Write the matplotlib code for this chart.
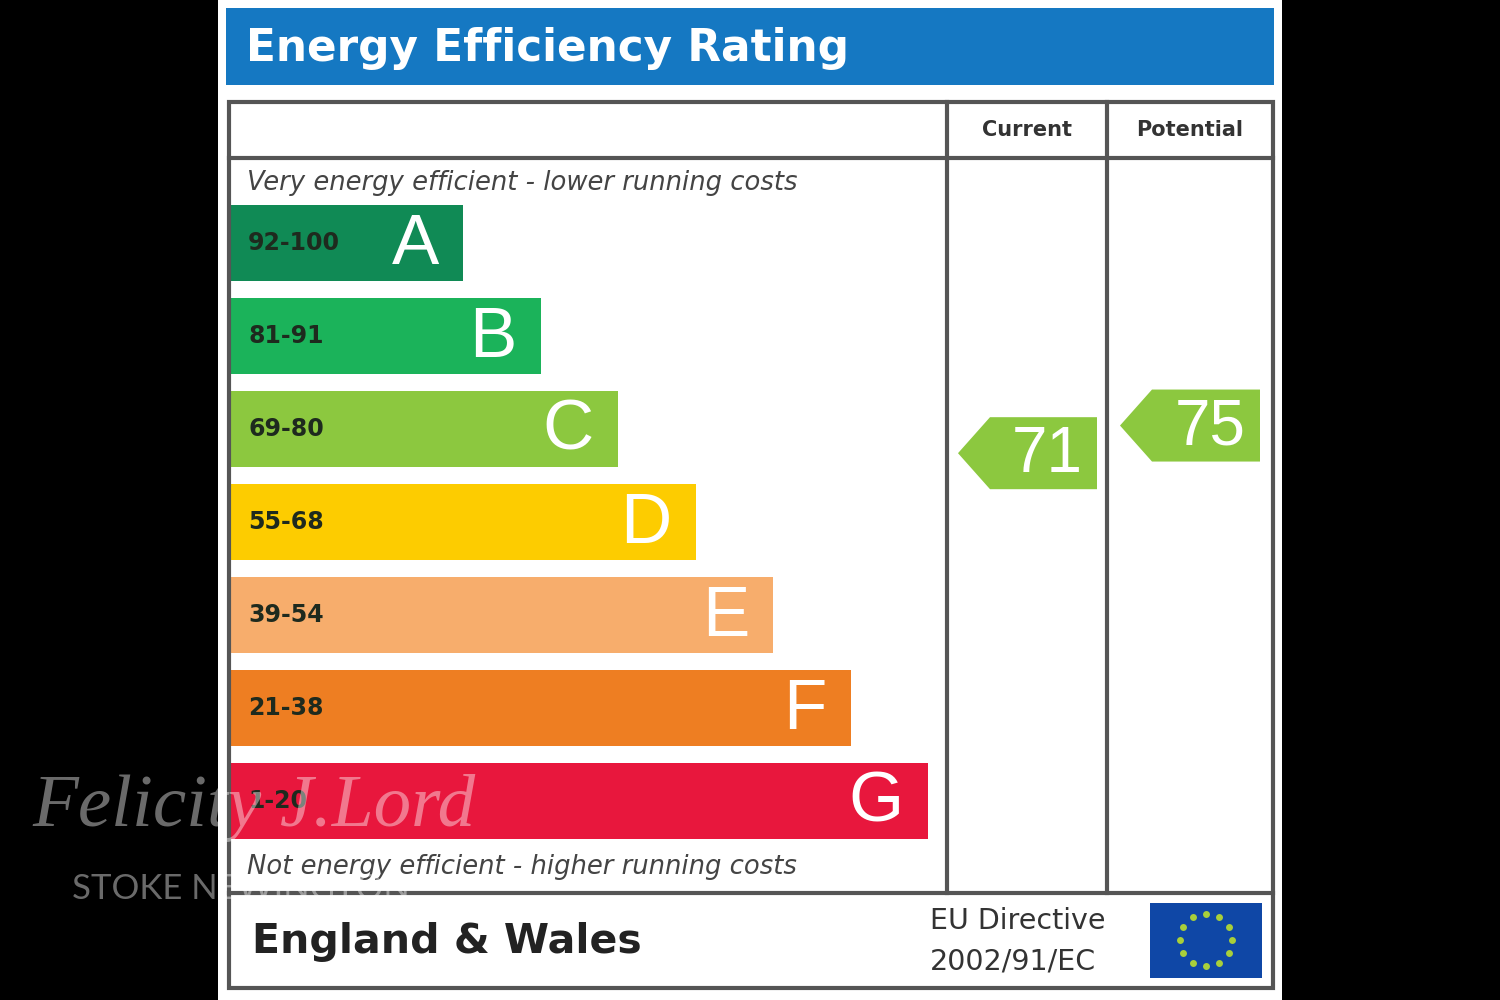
import matplotlib
matplotlib.use("Agg")
import matplotlib.pyplot as plt
from matplotlib.patches import Rectangle, Polygon
import numpy as np

# ---- data ----
bands = ["A", "B", "C", "D", "E", "F", "G"]
ranges = ["92-100", "81-91", "69-80", "55-68", "39-54", "21-38", "1-20"]
lows = [92, 81, 69, 55, 39, 21, 1]
highs = [100, 91, 80, 68, 54, 38, 20]
band_colors = ["#108a55", "#1bb35a", "#8cc83f", "#fdcc00", "#f7ad6c", "#ee7e22", "#e8173d"]
current = 71
potential = 75
columns = ["Current", "Potential"]

SANS = "DejaVu Sans"

fig = plt.figure(figsize=(15, 10), dpi=100, facecolor="black")
ax = fig.add_axes([0, 0, 1, 1])
ax.set_xlim(0, 1500)
ax.set_ylim(1000, 0)
ax.axis("off")
ax.set_facecolor("black")

# white panel
ax.add_patch(Rectangle((218, 0), 1064, 1000, facecolor="white", edgecolor="none", zorder=0))
# title bar
ax.add_patch(Rectangle((226, 8), 1048, 77, facecolor="#1578c2", edgecolor="none", zorder=1))
ax.text(246, 48, "Energy Efficiency Rating", color="white", fontsize=31.5, fontweight="bold",
        family=SANS, va="center", ha="left", zorder=2)

# frame
lc = "#555555"
ax.add_patch(Rectangle((229, 102), 1044, 886, facecolor="none", edgecolor=lc, lw=3, zorder=3))
ax.plot([229, 1273], [158, 158], color=lc, lw=3, zorder=3)
ax.plot([229, 1273], [893, 893], color=lc, lw=3, zorder=3)
ax.plot([947, 947], [102, 893], color=lc, lw=3, zorder=3)
ax.plot([1107, 1107], [102, 893], color=lc, lw=3, zorder=3)
ax.text(1027, 130, columns[0], fontsize=15, fontweight="bold", color="#333333",
        family=SANS, ha="center", va="center")
ax.text(1190, 130, columns[1], fontsize=15, fontweight="bold", color="#333333",
        family=SANS, ha="center", va="center")

ax.text(247, 183, "Very energy efficient - lower running costs", fontsize=18.6, style="italic",
        color="#444444", family=SANS, ha="left", va="center")
ax.text(247, 867, "Not energy efficient - higher running costs", fontsize=18.6, style="italic",
        color="#444444", family=SANS, ha="left", va="center")

# bars
bar_h = 76
step = 93
top0 = 205
ys = np.array([top0 + i * step + bar_h / 2 for i in range(len(bands))])
widths = np.array([233 + i * 77.5 for i in range(len(bands))])
ax.barh(ys, widths, left=230, height=bar_h, color=band_colors, zorder=2)
for y, w, b, r in zip(ys, widths, bands, ranges):
    ax.text(248, y, r, fontsize=17, fontweight="bold", color="#1e2a1e",
            family=SANS, ha="left", va="center", zorder=4)
    ax.text(230 + w - 24, y + 3, b, fontsize=51, color="white",
            family="Liberation Sans", ha="right", va="center", zorder=4)


def value_y(v):
    for i, (lo, hi) in enumerate(zip(lows, highs)):
        if lo <= v <= hi:
            frac = (v - lo) / (hi - lo)
            return ys[i] + bar_h / 2 - frac * bar_h, band_colors[i]
    return ys[-1], band_colors[-1]


def arrow(x0, x1, v):
    yc, col = value_y(v)
    h = 72
    tip = 32
    poly = Polygon([(x0, yc), (x0 + tip, yc - h / 2), (x1, yc - h / 2),
                    (x1, yc + h / 2), (x0 + tip, yc + h / 2)], closed=True,
                   facecolor=col, edgecolor="none", zorder=4)
    ax.add_patch(poly)
    ax.text((x0 + tip + x1) / 2 + 4, yc + 2, str(v), fontsize=46, color="white",
            family="Liberation Sans", ha="center", va="center", zorder=5)


arrow(958, 1097, current)
arrow(1120, 1260, potential)

# footer
ax.text(252, 942, "England & Wales", fontsize=29.5, fontweight="bold", color="#222222",
        family=SANS, ha="left", va="center")
ax.text(930, 921, "EU Directive", fontsize=20.5, color="#333333",
        family=SANS, ha="left", va="center")
ax.text(930, 961, "2002/91/EC", fontsize=20.5, color="#333333",
        family=SANS, ha="left", va="center")
ax.add_patch(Rectangle((1150, 903), 112, 75, facecolor="#0f47a6", edgecolor="none", zorder=3))
cx, cy, rr = 1206, 940, 26
for k in range(12):
    a = 2 * np.pi * k / 12
    ax.plot(cx + rr * np.sin(a), cy - rr * np.cos(a), marker="o", color="#a8cf3a",
            markersize=5, markeredgewidth=0, zorder=4)

# watermark
ax.text(32, 808, "Felicity J.Lord", fontsize=54, style="italic", color="white", alpha=0.42,
        family="Liberation Serif", ha="left", va="center", zorder=10)
ax.text(72, 889, "STOKE NEWINGTON", fontsize=25, color="white", alpha=0.42,
        family="Lato", ha="left", va="center", zorder=10)

fig.savefig("out.png", dpi=100, facecolor="black")
